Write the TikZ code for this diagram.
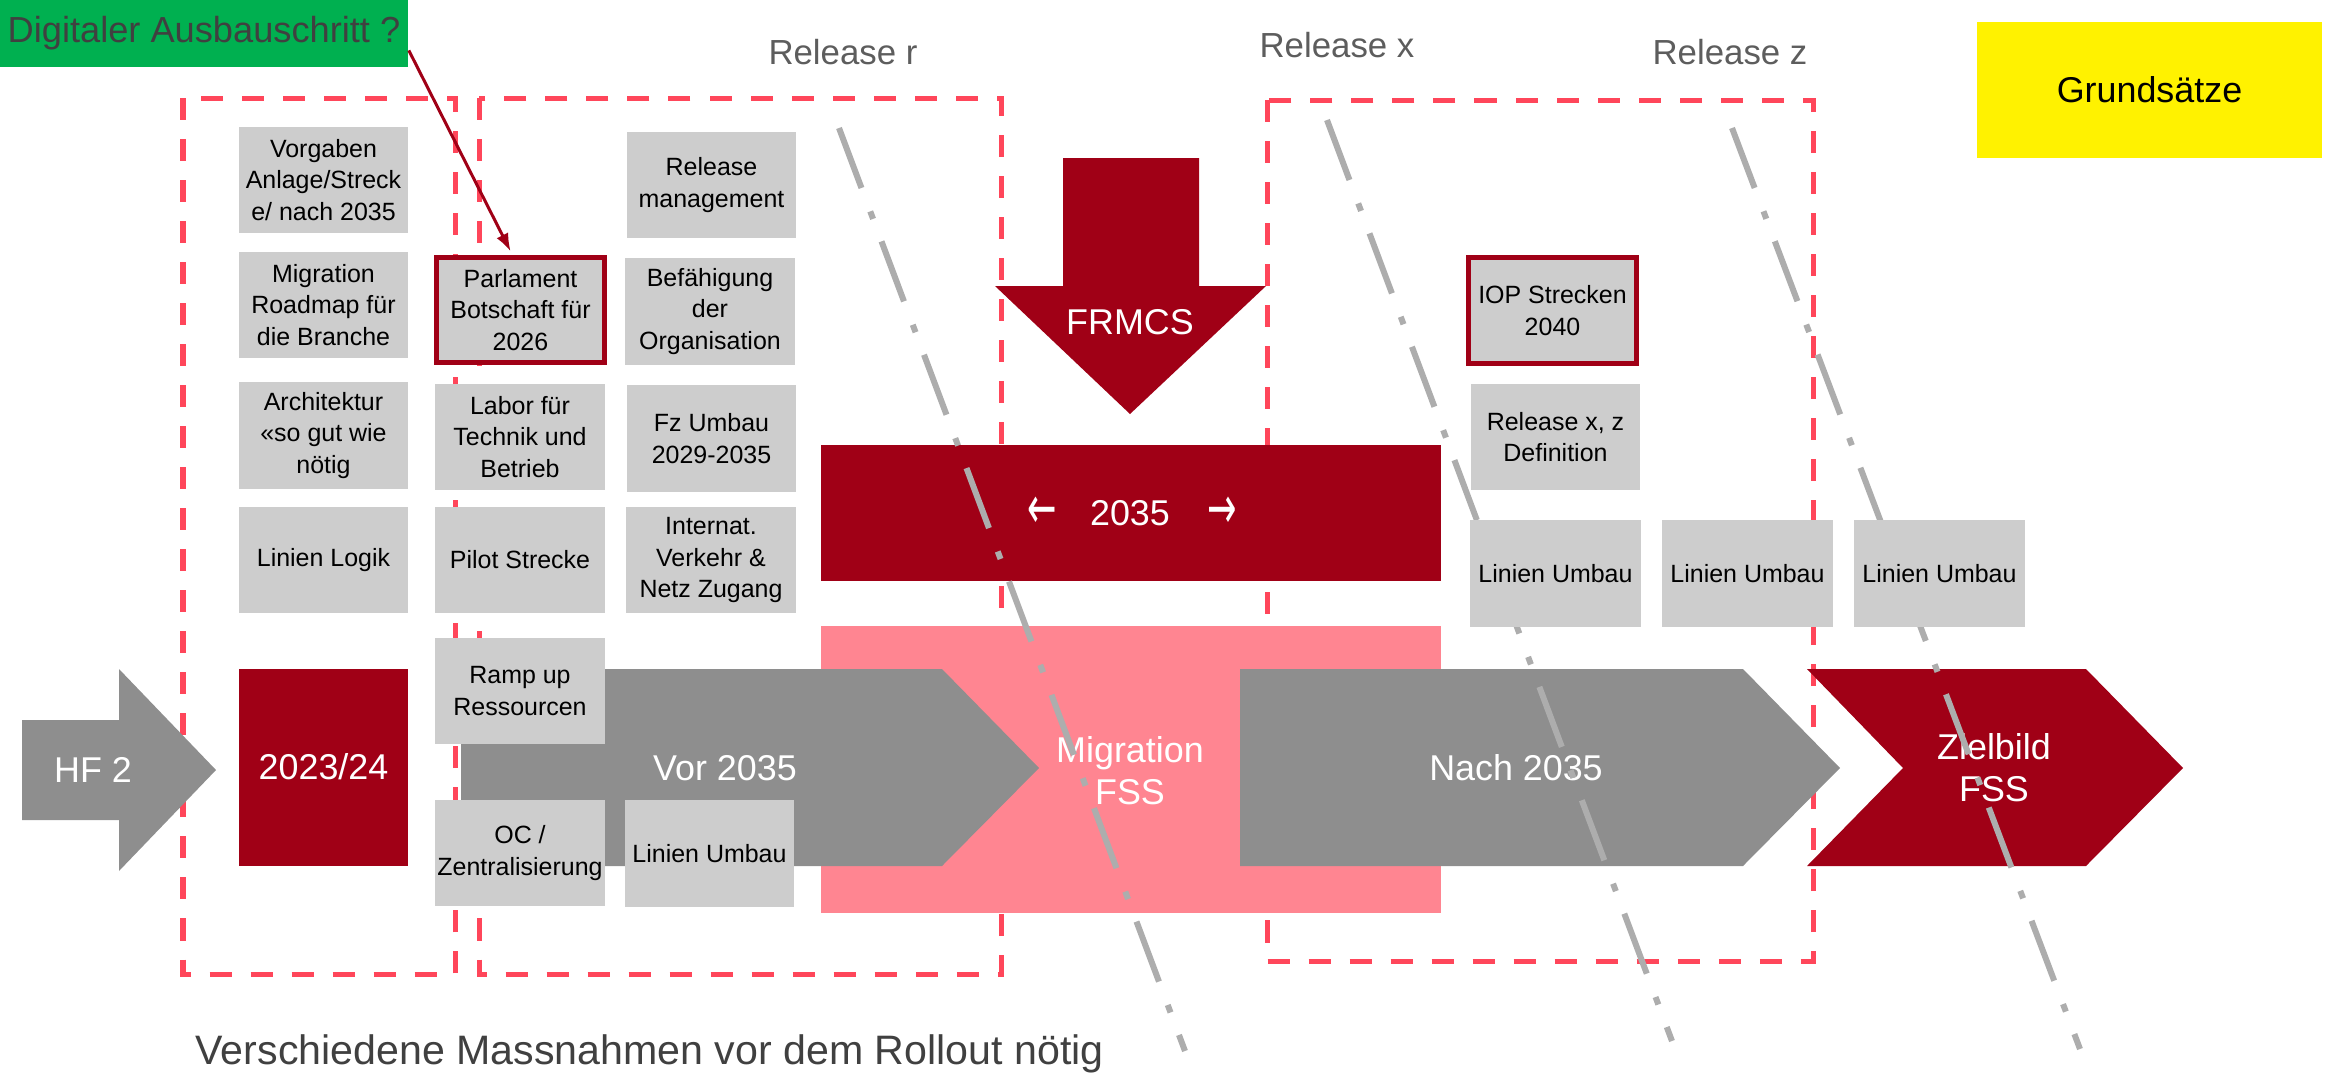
\documentclass[tikz,border=0pt]{standalone}
\usepackage{fontspec}
\setmainfont{Liberation Sans}
\newfontfamily\pfeilfont{DejaVu Sans}
\usetikzlibrary{arrows.meta}

\definecolor{dunkelrot}{RGB}{160,0,22}
\definecolor{rosa}{RGB}{255,133,145}
\definecolor{pfeilgrau}{RGB}{142,142,142}
\definecolor{boxgrau}{RGB}{205,205,205}
\definecolor{liniengrau}{RGB}{173,173,173}
\definecolor{strichrot}{RGB}{255,70,90}
\definecolor{gruen}{RGB}{0,176,80}
\definecolor{textgrau}{RGB}{64,64,64}

\tikzset{
  graubox/.style={fill=boxgrau,minimum width=1.69cm,minimum height=1.06cm,inner sep=0pt,
    align=center,text=black,font=\fontsize{7.1}{9}\selectfont},
  rotbox/.style={graubox,draw=dunkelrot,line width=0.05cm,minimum width=1.68cm,minimum height=1.05cm},
  rahmen/.style={draw=strichrot,line width=0.05cm,dash pattern=on 0.22cm off 0.19cm},
  schnitt/.style={draw=liniengrau,line width=0.06cm,dash pattern=on 0.64cm off 0.25cm on 0.08cm off 0.24cm},
  gross/.style={text=white,align=center,font=\fontsize{10.2}{12}\selectfont},
  titel/.style={text=textgrau!85,anchor=base,font=\fontsize{9.9}{12}\selectfont},
  pfeiltext/.style={gross,font=\pfeilfont\fontsize{10}{12}\selectfont}
}

\begin{document}
\begin{tikzpicture}[x=0.01cm,y=-0.01cm]
\useasboundingbox (0,0) rectangle (2338,1072);
% Release-Rahmen
\draw[rahmen] (183,98) rectangle (455,974);
\draw[rahmen] (479,98) rectangle (1001,974);
\draw[rahmen] (1267,100) rectangle (1813,961);
\node[titel] (relr) at (843,64) {Release r};
\node[titel] (relx) at (1337,57) {Release x};
\node[titel] (relz) at (1730,64) {Release z};
% Kopfzeile
\node[fill=gruen,minimum width=4.08cm,minimum height=0.67cm,inner sep=0pt,text=textgrau,
  font=\fontsize{10.3}{12}\selectfont] (ausbau) at (204,33.5) {Digitaler Ausbauschritt ?};
\node[fill=yellow,minimum width=3.45cm,minimum height=1.36cm,inner sep=0pt,
  font=\fontsize{10.2}{12}\selectfont] (grund) at (2149.5,90) {Grundsätze};
% Migration, 2035 und FRMCS
\fill[rosa] (821,626) rectangle (1441,913);
\node[gross] (migration) at (1130,771) {Migration\\FSS};
\fill[dunkelrot] (821,445) rectangle (1441,581);
\node[pfeiltext] (links) at (1042,513) {\scalebox{1}[1.7]{←}};
\node[gross] (jahr) at (1130,513) {2035};
\node[pfeiltext] (rechts) at (1222,513) {\scalebox{1}[1.7]{→}};
\fill[dunkelrot] (1063,158) -- (1199,158) -- (1199,286) -- (1266,286) -- (1130,414)
  -- (995,286) -- (1063,286) -- cycle;
\node[gross] (frmcs) at (1130,322) {FRMCS};
% Zeitachse
\fill[pfeilgrau] (22,720) -- (119,720) -- (119,669) -- (216,770) -- (119,871) -- (119,820)
  -- (22,820) -- cycle;
\node[gross] (hf) at (93,770) {HF 2};
\fill[dunkelrot] (239,669) rectangle (408,866);
\node[gross] (start) at (323.5,767) {2023/24};
\fill[pfeilgrau] (461,669) -- (942,669) -- (1039,768) -- (942,866) -- (461,866) -- cycle;
\node[gross] (vor) at (725,768) {Vor 2035};
\fill[pfeilgrau] (1240,669) -- (1743,669) -- (1840,768) -- (1743,866) -- (1240,866) -- cycle;
\node[gross] (nach) at (1516,768) {Nach 2035};
\fill[dunkelrot] (1807,669) -- (2086,669) -- (2183,768) -- (2086,866) -- (1807,866)
  -- (1903,768) -- cycle;
\node[gross] (zielbild) at (1994,768) {Zielbild\\FSS};
% Schnittlinien
\draw[schnitt] (839,128) -- (1185,1051);
\draw[schnitt] (1327,120) -- (1672,1041);
\draw[schnitt] (1732,128) -- (2080,1049);
% Massnahmen
\node[graubox] (vorgaben) at (323.5,180) {Vorgaben\\Anlage/Streck\\e/ nach 2035};
\node[graubox] (roadmap) at (323.5,305) {Migration\\Roadmap für\\die Branche};
\node[graubox] (architektur) at (323.5,435.5) {Architektur\\«so gut wie\\nötig};
\node[graubox] (logik) at (323.5,560) {Linien Logik};
\node[rotbox] (parlament) at (520.5,310) {Parlament\\Botschaft für\\2026};
\node[graubox] (labor) at (520,437) {Labor für\\Technik und\\Betrieb};
\node[graubox] (pilot) at (520,560) {Pilot Strecke};
\node[graubox] (ramp) at (520,691) {Ramp up\\Ressourcen};
\node[graubox] (oc) at (520,853) {OC /\\Zentralisierung};
\node[graubox] (relman) at (711.5,185) {Release\\management};
\node[graubox] (befaehigung) at (710,311.5) {Befähigung\\der\\Organisation};
\node[graubox] (fz) at (711.5,438.5) {Fz Umbau\\2029-2035};
\node[graubox] (internat) at (711,560) {Internat.\\Verkehr \&\\Netz Zugang};
\node[graubox] (umbaua) at (709.5,853.5) {Linien Umbau};
\node[rotbox] (iop) at (1552.5,310.5) {IOP Strecken\\2040};
\node[graubox] (relxz) at (1555.5,437) {Release x, z\\Definition};
\node[graubox,minimum width=1.71cm] (umbaub) at (1555.5,573.5) {Linien Umbau};
\node[graubox,minimum width=1.71cm] (umbauc) at (1747.5,573.5) {Linien Umbau};
\node[graubox,minimum width=1.71cm] (umbaud) at (1939.5,573.5) {Linien Umbau};
% Hinweis
\draw[dunkelrot,line width=0.03cm,-{Latex[length=0.18cm,width=0.13cm]}]
  ([yshift=-4.8pt]ausbau.east) -- ([xshift=-2.8pt,yshift=1pt]parlament.north);
\node[text=textgrau,anchor=base west,inner sep=0pt,font=\fontsize{11.7}{14}\selectfont] (fazit)
  at (195,1064) {Verschiedene Massnahmen vor dem Rollout nötig};
\end{tikzpicture}
\end{document}
